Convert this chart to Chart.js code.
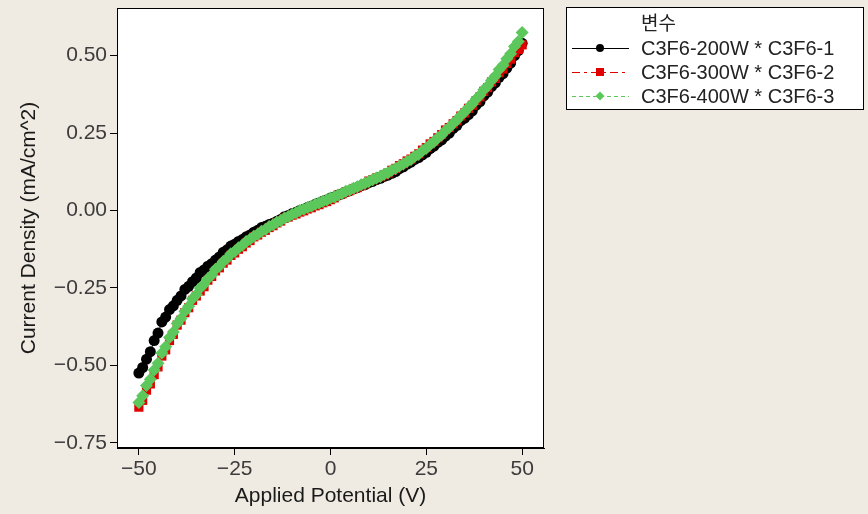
<!DOCTYPE html>
<html>
<head>
<meta charset="utf-8">
<script src="https://cdn.jsdelivr.net/npm/chart.js@4.4.1/dist/chart.umd.min.js"></script>
<style>
  html, body { margin: 0; padding: 0; background: #efebe2; }
  #wrap { width: 868px; height: 514px; position: relative; }
</style>
</head>
<body>
<div id="wrap"><canvas id="ivchart" width="868" height="514"></canvas></div>
<script>
// applied potential (V), one reading per volt
var voltage = [-50,-49,-48,-47,-46,-45,-44,-43,-42,-41,-40,-39,-38,-37,-36,-35,-34,-33,-32,-31,
  -30,-29,-28,-27,-26,-25,-24,-23,-22,-21,-20,-19,-18,-17,-16,-15,-14,-13,-12,-11,
  -10,-9,-8,-7,-6,-5,-4,-3,-2,-1,0,1,2,3,4,5,6,7,8,9,
  10,11,12,13,14,15,16,17,18,19,20,21,22,23,24,25,26,27,28,29,
  30,31,32,33,34,35,36,37,38,39,40,41,42,43,44,45,46,47,48,49,50];

// current density (mA/cm^2)
var c200w = [-0.525,-0.507,-0.48,-0.456,-0.42,-0.396,-0.36,-0.344,-0.32,-0.308,-0.29,-0.276,-0.255,-0.245,-0.23,-0.218,-0.20,-0.192,-0.18,-0.172,
  -0.16,-0.15,-0.135,-0.127,-0.115,-0.109,-0.10,-0.094,-0.085,-0.079,-0.07,-0.064,-0.055,-0.051,-0.045,-0.041,-0.035,-0.029,-0.02,-0.016,
  -0.01,-0.006,0.0,0.004,0.01,0.014,0.02,0.024,0.03,0.034,0.04,0.044,0.05,0.054,0.06,0.064,0.07,0.074,0.08,0.084,
  0.09,0.094,0.10,0.104,0.11,0.114,0.12,0.126,0.135,0.141,0.15,0.156,0.165,0.171,0.18,0.188,0.20,0.208,0.22,0.228,
  0.24,0.25,0.265,0.275,0.29,0.298,0.31,0.322,0.34,0.352,0.37,0.382,0.40,0.412,0.43,0.442,0.46,0.476,0.50,0.516,0.54];

var c300w = [-0.635,-0.613,-0.58,-0.56,-0.53,-0.505,-0.47,-0.45,-0.42,-0.40,-0.37,-0.354,-0.33,-0.314,-0.29,-0.276,-0.26,-0.246,-0.225,-0.213,
  -0.195,-0.185,-0.17,-0.16,-0.145,-0.137,-0.125,-0.117,-0.105,-0.097,-0.085,-0.079,-0.07,-0.064,-0.055,-0.049,-0.04,-0.034,-0.025,-0.021,
  -0.015,-0.011,-0.005,-0.001,0.005,0.009,0.015,0.019,0.025,0.029,0.035,0.041,0.05,0.054,0.06,0.064,0.07,0.074,0.08,0.086,
  0.095,0.099,0.105,0.109,0.115,0.121,0.13,0.136,0.145,0.151,0.16,0.166,0.175,0.183,0.195,0.203,0.215,0.223,0.235,0.245,
  0.26,0.268,0.28,0.29,0.305,0.315,0.33,0.34,0.355,0.367,0.385,0.397,0.415,0.427,0.445,0.457,0.475,0.489,0.51,0.52,0.535];

var c400w = [-0.62,-0.598,-0.565,-0.545,-0.515,-0.493,-0.46,-0.44,-0.41,-0.392,-0.365,-0.349,-0.325,-0.309,-0.285,-0.271,-0.25,-0.238,-0.22,-0.208,
  -0.19,-0.18,-0.165,-0.155,-0.14,-0.132,-0.12,-0.112,-0.10,-0.093,-0.083,-0.077,-0.067,-0.061,-0.052,-0.046,-0.038,-0.032,-0.024,-0.019,
  -0.012,-0.007,0.0,0.004,0.01,0.014,0.02,0.024,0.03,0.034,0.04,0.044,0.05,0.055,0.062,0.066,0.072,0.077,0.083,0.088,
  0.094,0.099,0.105,0.11,0.117,0.122,0.13,0.136,0.144,0.15,0.158,0.165,0.175,0.182,0.193,0.201,0.213,0.222,0.235,0.244,
  0.258,0.268,0.282,0.292,0.307,0.318,0.333,0.344,0.36,0.372,0.39,0.402,0.42,0.434,0.455,0.469,0.49,0.506,0.53,0.546,0.575];

var seriesNames = ['C3F6-200W * C3F6-1', 'C3F6-300W * C3F6-2', 'C3F6-400W * C3F6-3'];
var legendTitle = '변수';
var xTicks = [-50, -25, 0, 25, 50];
var yTicks = [-0.75, -0.50, -0.25, 0.00, 0.25, 0.50];

function pts(vals) {
  return voltage.map(function(v, i) { return { x: v, y: vals[i] }; });
}

var tickFont = { family: 'Liberation Sans', size: 21 };
var titleFont = { family: 'Liberation Sans', size: 21 };

// frame, white plot area and page background
var framePlugin = {
  id: 'frame',
  beforeDraw: function(chart) {
    var ctx = chart.ctx, a = chart.chartArea;
    ctx.save();
    ctx.fillStyle = '#efebe2';
    ctx.fillRect(0, 0, chart.width, chart.height);
    ctx.fillStyle = '#ffffff';
    ctx.fillRect(a.left, a.top, a.right - a.left, a.bottom - a.top);
    ctx.restore();
  },
  afterDraw: function(chart) {
    var ctx = chart.ctx, a = chart.chartArea;
    ctx.save();
    ctx.strokeStyle = '#000';
    ctx.lineWidth = 1;
    ctx.strokeRect(Math.round(a.left) + 0.5, Math.round(a.top) + 0.5, Math.round(a.right - a.left) - 1, Math.round(a.bottom - a.top) - 1);
    ctx.restore();
  }
};

// boxed legend to the right, like the original
var legendPlugin = {
  id: 'boxLegend',
  afterDraw: function(chart) {
    var ctx = chart.ctx;
    var bx = 566, by = 7, bw = 298, bh = 103;
    ctx.save();
    ctx.fillStyle = '#fff';
    ctx.fillRect(bx, by, bw, bh);
    ctx.strokeStyle = '#000';
    ctx.lineWidth = 1;
    ctx.strokeRect(bx + 0.5, by + 0.5, bw - 1, bh - 1);

    ctx.fillStyle = '#222';
    ctx.textBaseline = 'middle';
    ctx.font = '19px "Noto Sans CJK KR"';
    ctx.fillText(legendTitle, 641, 23);

    ctx.font = '20px "Liberation Sans"';
    chart.data.datasets.forEach(function(ds, i) {
      var y = 48 + i * 24;
      ctx.strokeStyle = ds.borderColor;
      ctx.lineWidth = 1;
      ctx.setLineDash(ds.borderDash || []);
      ctx.beginPath();
      ctx.moveTo(572, y + 0.5);
      ctx.lineTo(629, y + 0.5);
      ctx.stroke();
      ctx.setLineDash([]);
      ctx.fillStyle = ds.pointBackgroundColor;
      var r = ds.legendRadius;
      ctx.beginPath();
      if (ds.pointStyle === 'rect') {
        ctx.rect(600 - r, y - r, 2 * r, 2 * r);
      } else if (ds.pointStyle === 'rectRot') {
        ctx.moveTo(600, y - r); ctx.lineTo(600 + r, y); ctx.lineTo(600, y + r); ctx.lineTo(600 - r, y);
        ctx.closePath();
      } else {
        ctx.arc(600, y, r, 0, Math.PI * 2);
      }
      ctx.fill();
      ctx.fillStyle = '#222';
      ctx.fillText(ds.label, 641, y + 1);
    });
    ctx.restore();
  }
};

new Chart(document.getElementById('ivchart'), {
  type: 'line',
  data: {
    datasets: [{
      label: seriesNames[0],
      data: pts(c200w),
      borderColor: '#000000',
      backgroundColor: '#000000',
      pointBackgroundColor: '#000000',
      pointBorderColor: '#000000',
      pointStyle: 'circle',
      pointRadius: 5.5,
      pointBorderWidth: 0,
      borderWidth: 1,
      legendRadius: 4,
      order: 3
    }, {
      label: seriesNames[1],
      data: pts(c300w),
      borderColor: '#e00000',
      backgroundColor: '#e00000',
      pointBackgroundColor: '#e00000',
      pointBorderColor: '#e00000',
      pointStyle: 'rect',
      pointRadius: 6.5,
      pointBorderWidth: 0,
      borderWidth: 1,
      borderDash: [8, 4, 3, 4],
      legendRadius: 4,
      order: 2
    }, {
      label: seriesNames[2],
      data: pts(c400w),
      borderColor: '#5cc85c',
      backgroundColor: '#5cc85c',
      pointBackgroundColor: '#5cc85c',
      pointBorderColor: '#5cc85c',
      pointStyle: 'rectRot',
      pointRadius: 6.5,
      pointBorderWidth: 0,
      borderWidth: 1,
      borderDash: [4, 3],
      legendRadius: 4.5,
      order: 1
    }]
  },
  options: {
    responsive: false,
    animation: false,
    layout: { padding: { top: 8, right: 324, bottom: 0, left: 0 } },
    plugins: { legend: { display: false }, tooltip: { enabled: false } },
    scales: {
      x: {
        type: 'linear',
        min: -55.7,
        max: 55.7,
        afterBuildTicks: function(s) { s.ticks = xTicks.map(function(v) { return { value: v }; }); },
        afterFit: function(s) { s.height = 66; s.paddingLeft = 0; s.paddingRight = 0; },
        ticks: {
          font: tickFont, color: '#3c3c3c', padding: 2,
          callback: function(v) { return v < 0 ? '\u2212' + Math.abs(v) : String(v); }
        },
        grid: { drawOnChartArea: false, drawTicks: true, tickLength: 7, color: '#000' },
        border: { display: true, color: '#000' },
        title: { display: true, text: 'Applied Potential (V)', font: titleFont, color: '#1a1a1a', padding: { top: 0, bottom: 5 } }
      },
      y: {
        type: 'linear',
        min: -0.767,
        max: 0.654,
        afterBuildTicks: function(s) { s.ticks = yTicks.map(function(v) { return { value: v }; }); },
        afterFit: function(s) { s.width = 117; s.paddingTop = 0; s.paddingBottom = 0; },
        ticks: {
          font: tickFont, color: '#3c3c3c', padding: 3,
          callback: function(v) { var t = Math.abs(v).toFixed(2); return v < 0 ? '\u2212' + t : t; }
        },
        grid: { drawOnChartArea: false, drawTicks: true, tickLength: 7, color: '#000' },
        border: { display: true, color: '#000' },
        title: { display: true, text: 'Current Density (mA/cm^2)', font: titleFont, color: '#1a1a1a', padding: { top: 17, bottom: 0 } }
      }
    }
  },
  plugins: [framePlugin, legendPlugin]
});
</script>
</body>
</html>
